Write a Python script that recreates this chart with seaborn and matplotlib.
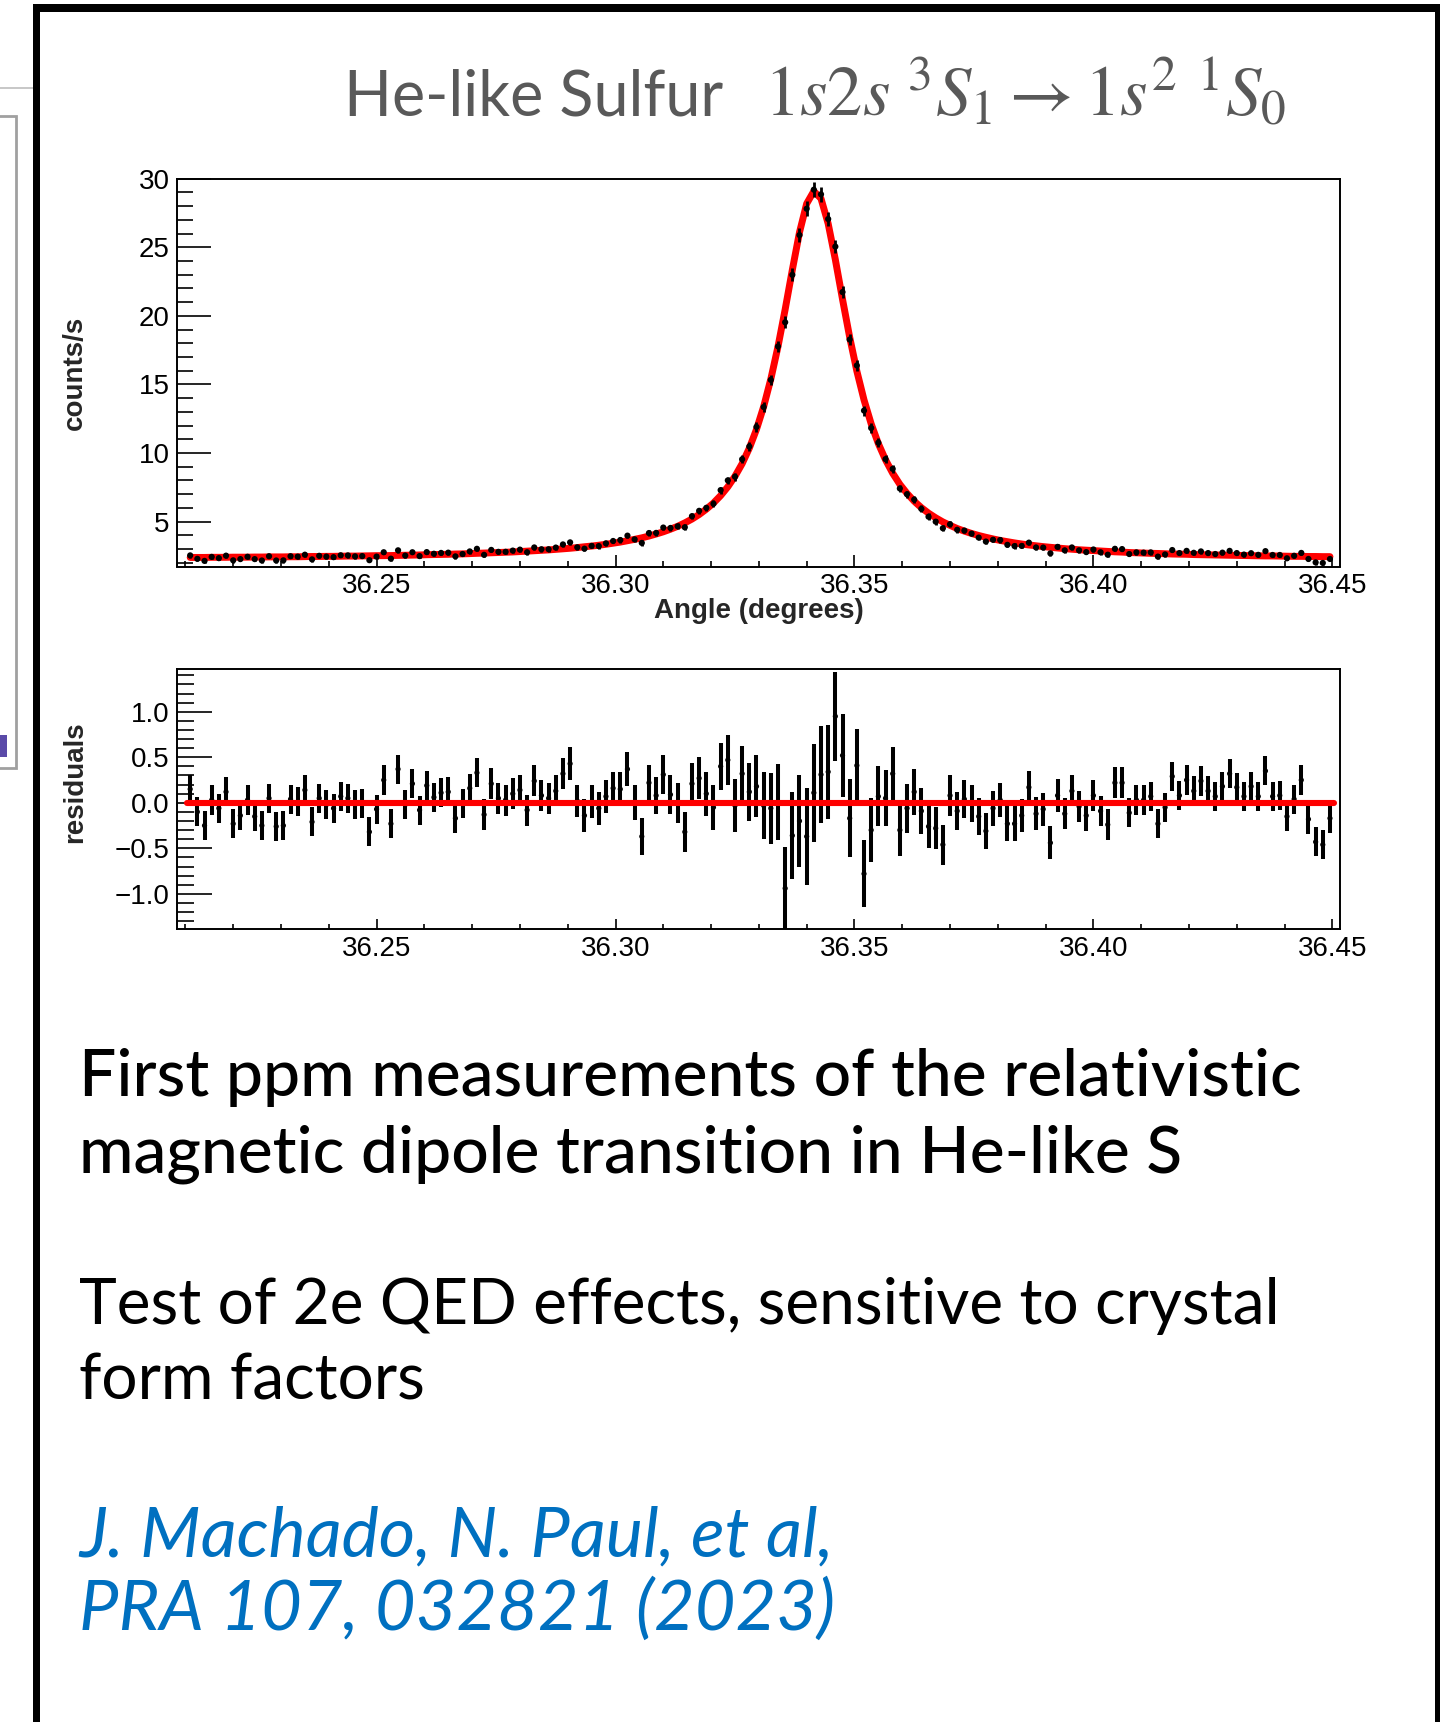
import numpy as np
import matplotlib
matplotlib.use("Agg")
import matplotlib.pyplot as plt
from matplotlib.patches import Rectangle
from matplotlib.ticker import MultipleLocator, FixedLocator, FuncFormatter
import seaborn as sns

# ---- data ----
# angle bins: 160 bins of 0.0015 deg, first centre at 36.211 deg
first_bin = 36.211
bin_width = 0.0015
n_bins = 160
angle = np.round(first_bin + bin_width * np.arange(n_bins), 4)

counts = [
    2.53, 2.28, 2.13, 2.42, 2.33, 2.51, 2.17, 2.26, 2.43, 2.26,
    2.16, 2.47, 2.16, 2.17, 2.47, 2.44, 2.58, 2.24, 2.50, 2.44,
    2.40, 2.54, 2.53, 2.46, 2.48, 2.18, 2.44, 2.76, 2.29, 2.90,
    2.52, 2.76, 2.48, 2.77, 2.65, 2.71, 2.73, 2.46, 2.63, 2.82,
    3.01, 2.57, 2.93, 2.79, 2.79, 2.88, 2.95, 2.76, 3.11, 2.98,
    2.98, 3.10, 3.33, 3.48, 3.12, 3.02, 3.22, 3.21, 3.41, 3.58,
    3.65, 3.97, 3.70, 3.44, 4.16, 4.17, 4.56, 4.53, 4.65, 4.58,
    5.39, 5.78, 6.00, 6.30, 7.29, 8.00, 8.27, 9.54, 10.47, 11.90,
    13.35, 15.33, 17.77, 19.53, 22.99, 25.89, 27.81, 29.20, 28.86, 27.06,
    25.05, 21.73, 18.27, 16.38, 13.09, 11.82, 10.75, 9.55, 8.84, 7.41,
    6.99, 6.60, 5.92, 5.35, 4.99, 4.51, 4.80, 4.40, 4.34, 4.12,
    3.83, 3.54, 3.67, 3.65, 3.30, 3.21, 3.22, 3.46, 3.11, 3.10,
    2.68, 3.15, 2.90, 3.11, 2.90, 2.77, 2.96, 2.76, 2.58, 3.01,
    2.99, 2.63, 2.75, 2.73, 2.75, 2.44, 2.60, 2.92, 2.70, 2.86,
    2.72, 2.82, 2.70, 2.63, 2.73, 2.86, 2.70, 2.59, 2.69, 2.57,
    2.84, 2.56, 2.56, 2.32, 2.50, 2.71, 2.27, 2.02, 1.98, 2.27,
]

fit_curve = [
    2.38, 2.38, 2.38, 2.39, 2.39, 2.39, 2.40, 2.40, 2.40, 2.41,
    2.41, 2.42, 2.42, 2.42, 2.43, 2.43, 2.44, 2.45, 2.45, 2.46,
    2.46, 2.47, 2.48, 2.48, 2.49, 2.50, 2.51, 2.51, 2.52, 2.53,
    2.54, 2.55, 2.56, 2.58, 2.59, 2.60, 2.61, 2.63, 2.64, 2.66,
    2.68, 2.70, 2.72, 2.74, 2.76, 2.78, 2.81, 2.84, 2.87, 2.90,
    2.93, 2.97, 3.01, 3.05, 3.10, 3.16, 3.21, 3.27, 3.34, 3.42,
    3.50, 3.60, 3.70, 3.81, 3.94, 4.09, 4.25, 4.44, 4.65, 4.90,
    5.18, 5.51, 5.90, 6.35, 6.89, 7.53, 8.30, 9.22, 10.35, 11.72,
    13.38, 15.39, 17.76, 20.47, 23.35, 26.09, 28.18, 29.09, 28.55, 26.72,
    24.10, 21.21, 18.44, 15.97, 13.87, 12.12, 10.68, 9.50, 8.52, 7.71,
    7.05, 6.48, 6.01, 5.61, 5.27, 4.97, 4.72, 4.49, 4.30, 4.13,
    3.98, 3.85, 3.73, 3.62, 3.53, 3.44, 3.36, 3.29, 3.23, 3.17,
    3.12, 3.07, 3.02, 2.98, 2.94, 2.91, 2.88, 2.85, 2.82, 2.79,
    2.77, 2.74, 2.72, 2.70, 2.68, 2.67, 2.65, 2.63, 2.62, 2.61,
    2.59, 2.58, 2.57, 2.56, 2.55, 2.54, 2.53, 2.52, 2.51, 2.50,
    2.49, 2.49, 2.48, 2.47, 2.46, 2.46, 2.45, 2.45, 2.44, 2.44,
]

residuals = [
    0.15, -0.10, -0.25, 0.03, -0.06, 0.12, -0.23, -0.14, 0.03, -0.15,
    -0.25, 0.05, -0.26, -0.25, 0.04, 0.01, 0.14, -0.21, 0.05, -0.02,
    -0.06, 0.07, 0.05, -0.02, -0.01, -0.32, -0.07, 0.25, -0.23, 0.37,
    -0.02, 0.21, -0.08, 0.19, 0.06, 0.11, 0.12, -0.17, -0.01, 0.16,
    0.33, -0.13, 0.21, 0.05, 0.03, 0.10, 0.14, -0.08, 0.24, 0.08,
    0.05, 0.13, 0.32, 0.43, 0.02, -0.14, 0.01, -0.06, 0.07, 0.16,
    0.15, 0.37, 0.00, -0.37, 0.22, 0.08, 0.31, 0.09, 0.00, -0.32,
    0.21, 0.27, 0.10, -0.05, 0.40, 0.47, -0.03, 0.32, 0.12, 0.18,
    -0.03, -0.06, 0.01, -0.94, -0.36, -0.20, -0.37, 0.11, 0.31, 0.34,
    0.95, 0.52, -0.17, 0.41, -0.78, -0.30, 0.07, 0.05, 0.32, -0.30,
    -0.06, 0.12, -0.09, -0.26, -0.28, -0.46, 0.08, -0.09, 0.04, -0.01,
    -0.15, -0.31, -0.06, 0.03, -0.23, -0.23, -0.14, 0.17, -0.12, -0.07,
    -0.44, 0.08, -0.12, 0.13, -0.04, -0.14, 0.08, -0.09, -0.24, 0.22,
    0.22, -0.11, 0.03, 0.03, 0.07, -0.23, -0.05, 0.29, 0.08, 0.25,
    0.13, 0.24, 0.13, 0.07, 0.18, 0.32, 0.17, 0.07, 0.18, 0.07,
    0.35, 0.07, 0.08, -0.15, 0.04, 0.25, -0.18, -0.43, -0.46, -0.17,
]

errors = [
    0.16, 0.16, 0.16, 0.16, 0.16, 0.16, 0.16, 0.16, 0.16, 0.16,
    0.16, 0.16, 0.16, 0.16, 0.16, 0.16, 0.16, 0.16, 0.16, 0.16,
    0.16, 0.16, 0.16, 0.16, 0.16, 0.16, 0.16, 0.16, 0.16, 0.16,
    0.16, 0.16, 0.16, 0.16, 0.16, 0.16, 0.16, 0.16, 0.16, 0.16,
    0.16, 0.17, 0.17, 0.17, 0.17, 0.17, 0.17, 0.17, 0.17, 0.17,
    0.17, 0.17, 0.17, 0.18, 0.18, 0.18, 0.18, 0.18, 0.18, 0.18,
    0.19, 0.19, 0.19, 0.20, 0.20, 0.20, 0.21, 0.21, 0.22, 0.22,
    0.23, 0.23, 0.24, 0.25, 0.26, 0.27, 0.29, 0.30, 0.32, 0.34,
    0.37, 0.39, 0.42, 0.45, 0.48, 0.51, 0.53, 0.54, 0.53, 0.52,
    0.49, 0.46, 0.43, 0.40, 0.37, 0.35, 0.33, 0.31, 0.29, 0.28,
    0.27, 0.25, 0.25, 0.24, 0.23, 0.22, 0.22, 0.21, 0.21, 0.20,
    0.20, 0.20, 0.19, 0.19, 0.19, 0.19, 0.18, 0.18, 0.18, 0.18,
    0.18, 0.18, 0.17, 0.17, 0.17, 0.17, 0.17, 0.17, 0.17, 0.17,
    0.17, 0.16, 0.16, 0.16, 0.16, 0.16, 0.16, 0.16, 0.16, 0.16,
    0.16, 0.16, 0.16, 0.16, 0.16, 0.16, 0.16, 0.16, 0.16, 0.16,
    0.16, 0.16, 0.16, 0.16, 0.16, 0.16, 0.16, 0.16, 0.16, 0.16,
]

count_ticks = [5, 10, 15, 20, 25, 30]
resid_ticks = [-1.0, -0.5, 0.0, 0.5, 1.0]

title_text = "He-like Sulfur"
title_math = r"$1s2s\ {}^{3}S_{1} \rightarrow 1s^{2}\ {}^{1}S_{0}$"
block1 = ["First ppm measurements of the relativistic",
          "magnetic dipole transition in He-like S"]
block2 = ["Test of 2e QED effects, sensitive to crystal",
          "form factors"]
block3 = ["J. Machado, N. Paul, et al,",
          "PRA 107, 032821 (2023)"]

# ---- style ----
W, H = 1440, 1722
sns.set_theme(style="white")
plt.rcParams["font.family"] = ["Liberation Sans", "DejaVu Sans"]
plt.rcParams["mathtext.fontset"] = "stix"
plt.rcParams["axes.unicode_minus"] = True

fig = plt.figure(figsize=(W / 100, H / 100), dpi=100)
fig.patch.set_facecolor("white")


def px_axes(x0, y0, x1, y1):
    # pixel box (top-left origin) -> axes
    return fig.add_axes([x0 / W, 1 - y1 / H, (x1 - x0) / W, (y1 - y0) / H])


def px_rect(x0, y0, x1, y1, **kw):
    fig.patches.append(Rectangle((x0 / W, 1 - y1 / H), (x1 - x0) / W, (y1 - y0) / H,
                                 transform=fig.transFigure, figure=fig, **kw))


def root_look(ax, ymaj, ymin, xmaj, xmin):
    for s in ax.spines.values():
        s.set_linewidth(1.4)
        s.set_color("black")
    ax.tick_params(axis="both", which="both", direction="in", width=1.2,
                   colors="black", labelsize=20, pad=5,
                   top=False, right=False, bottom=True, left=True)
    ax.tick_params(axis="y", which="major", length=ymaj)
    ax.tick_params(axis="y", which="minor", length=ymin)
    ax.tick_params(axis="x", which="major", length=xmaj, pad=4.5)
    ax.tick_params(axis="x", which="minor", length=xmin)
    ax.xaxis.set_major_locator(MultipleLocator(0.05))
    ax.xaxis.set_minor_locator(MultipleLocator(0.01))
    ax.xaxis.set_major_formatter(FuncFormatter(lambda v, p: f"{v:.2f}"))
    ax.set_xlim(36.2082, 36.4516)
    ax.grid(False)


# ---- top panel: spectrum with fit ----
ax = px_axes(176.8, 178.7, 1340, 566.5)
sns.lineplot(x=angle, y=fit_curve, ax=ax, color="#ff0000", lw=5,
             estimator=None, sort=False, zorder=2)
ax.errorbar(angle, counts, yerr=errors, fmt="none", ecolor="black",
            elinewidth=2.0, capsize=0, zorder=3)
sns.scatterplot(x=angle, y=counts, ax=ax, color="black", s=20,
                edgecolor="none", zorder=4)
root_look(ax, 24.5, 11.5, 8.6, 4.6)
ax.set_ylim(1.72, 30)
ax.yaxis.set_major_locator(FixedLocator(count_ticks))
ax.yaxis.set_minor_locator(MultipleLocator(1))
ax.yaxis.set_major_formatter(FuncFormatter(lambda v, p: f"{v:.0f}"))
ax.set_xlabel("Angle (degrees)", fontsize=20, fontweight="bold")
ax.xaxis.set_label_coords(0.5, -0.081)
ax.set_ylabel("counts/s", fontsize=20, fontweight="bold")
ax.yaxis.set_label_coords(-0.0763, 0.5)

# ---- bottom panel: residuals ----
axr = px_axes(176.8, 669, 1340, 929.3)
axr.errorbar(angle, residuals, yerr=errors, fmt="none", ecolor="black",
             elinewidth=2.9, capsize=0, zorder=2)
sns.scatterplot(x=angle, y=residuals, ax=axr, color="black", s=14,
                edgecolor="none", zorder=3)
sns.lineplot(x=[angle[0] - bin_width / 2, angle[-1] + bin_width / 2], y=[0, 0],
             ax=axr, color="#ff0000", lw=4.4, zorder=4)
root_look(axr, 25, 12, 7.2, 3.6)
axr.set_ylim(-1.39, 1.47)
axr.yaxis.set_major_locator(FixedLocator(resid_ticks))
axr.yaxis.set_minor_locator(MultipleLocator(0.1))
axr.yaxis.set_major_formatter(FuncFormatter(lambda v, p: f"{v:.1f}".replace("-", "\u2212")))
axr.set_xlabel("")
axr.set_ylabel("residuals", fontsize=20, fontweight="bold")
axr.yaxis.set_label_coords(-0.0763, 0.566)

# ---- slide text ----
renderer = fig.canvas.get_renderer()


def put_line(x, y, s, **kw):
    return fig.text(x / W, 1 - y / H, s, ha="left", va="baseline", **kw)


def fit_to(txt, width_px):
    w = txt.get_window_extent(renderer=renderer).width
    txt.set_fontsize(txt.get_fontsize() * width_px / w)
    return txt.get_fontsize()


t = put_line(344, 115, title_text, color="#595959", fontsize=40, family="Lato")
fit_to(t, 379)
t = put_line(764, 115, title_math, color="#595959", fontsize=40)
fit_to(t, 523)

lines = [
    (block1, [1096, 1173], 1220, dict(color="black", family="Lato", fontweight="medium")),
    (block2, [1324, 1400], 1201, dict(color="black", family="Lato", fontweight="normal")),
    (block3, [1557, 1630], 754, dict(color="#0070c0", family="Lato", style="italic")),
]
for texts, ys, width, kw in lines:
    first = put_line(79, ys[0], texts[0], fontsize=40, **kw)
    size = fit_to(first, width)
    put_line(79, ys[1], texts[1], fontsize=size, **kw)

# ---- slide frame and window remnants on the left ----
px_rect(33, 4, 40, H, color="black", lw=0)
px_rect(33, 4, W, 12, color="black", lw=0)
px_rect(1435, 4, W, H, color="black", lw=0)
px_rect(0, 87, 33, 89, color="#c8c8c8", lw=0)
px_rect(-4, 116, 16, 768, facecolor="white", edgecolor="#a0a0a0", lw=2)
px_rect(0, 735, 7, 757, color="#5a4aa8", lw=0)

fig.savefig("out.png", dpi=100, facecolor="white")
